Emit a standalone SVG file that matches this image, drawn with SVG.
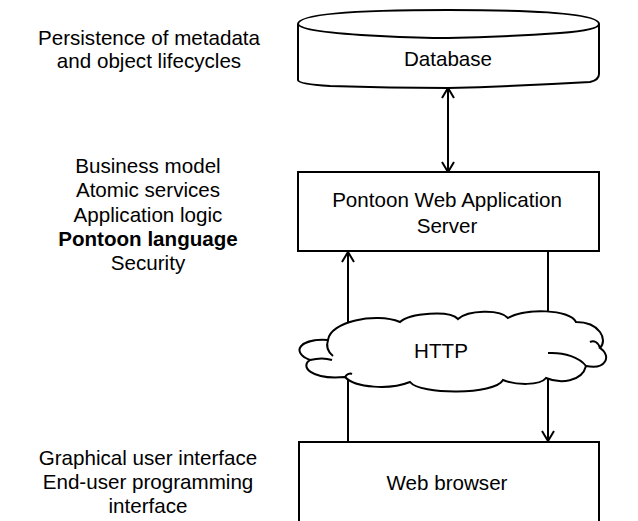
<svg xmlns="http://www.w3.org/2000/svg" width="638" height="521" viewBox="0 0 638 521">
<style>
  text { font-family: "Liberation Sans", Arial, sans-serif; font-size: 20.6px; fill: #000; text-anchor: middle; }
  .b { font-weight: bold; }
  .shape { fill: #fff; stroke: #000; stroke-width: 2; }
  .line { fill: none; stroke: #000; stroke-width: 2; }
</style>
<defs>
  <marker id="arr" viewBox="-12 -7 14 14" refX="0" refY="0" markerWidth="14" markerHeight="14" markerUnits="userSpaceOnUse" orient="auto-start-reverse">
    <path d="M-10,-6 L0,0 L-10,6" fill="none" stroke="#000" stroke-width="2"/>
  </marker>
</defs>
<rect width="638" height="521" fill="#fff"/>

<g id="labels">
  <text x="149" y="45">Persistence of metadata</text>
  <text x="149" y="68">and object lifecycles</text>
  <text x="148" y="173">Business model</text>
  <text x="148" y="197">Atomic services</text>
  <text x="148" y="222">Application logic</text>
  <text x="148" y="246" class="b">Pontoon language</text>
  <text x="148" y="270">Security</text>
  <text x="148" y="465">Graphical user interface</text>
  <text x="148" y="489">End-user programming</text>
  <text x="148" y="513">interface</text>
</g>

<g id="connectors">
  <line class="line" x1="448" y1="88" x2="448" y2="172" marker-start="url(#arr)" marker-end="url(#arr)"/>
  <line class="line" x1="348" y1="442" x2="348" y2="252" marker-end="url(#arr)"/>
  <line class="line" x1="548" y1="251" x2="548" y2="441" marker-end="url(#arr)"/>
</g>

<g id="database">
  <path class="shape" d="M298,24 L298,80 Q298,84 330,86 Q390,88 448,88 Q520,86 590,82 Q599,80 599,74 L599,24 Q599,10 448,10 Q298,10 298,24 Z"/>
  <path class="line" d="M298,24 Q300,32 380,36 Q420,38 448,38 Q500,37 560,33 Q599,30 599,24"/>
  <text x="448" y="66">Database</text>
</g>

<g id="server">
  <rect class="shape" x="298" y="172" width="301" height="79"/>
  <text x="447" y="207">Pontoon Web Application</text>
  <text x="447" y="233">Server</text>
</g>

<g id="http">
  <path class="shape" d="M328,340 C330,322 375,312 400,322 C410,313 450,310 458,319 C468,310 500,309 508,318 C525,308 570,309 576,322 C600,322 608,340 600,348 C612,356 606,370 586,366 C582,382 560,384 546,378 C540,386 515,385 503,380 C495,395 420,395 410,382 C390,390 355,388 345,377 C310,380 300,366 310,360 C290,352 300,338 328,340 Z"/>
  <path class="line" d="M328,340 C326,346 328,352 333,356"/>
  <path class="line" d="M310,360 C318,358 326,358 332,360"/>
  <path class="line" d="M600,348 C598,342 594,340 590,342"/>
  <path class="line" d="M586,366 C580,358 565,352 548,353"/>
  <path class="line" d="M345,377 C347,374 350,373 352,374"/>
  <text x="441" y="358">HTTP</text>
</g>

<g id="browser">
  <rect class="shape" x="299" y="442" width="300" height="100"/>
  <text x="447" y="490">Web browser</text>
</g>
</svg>
